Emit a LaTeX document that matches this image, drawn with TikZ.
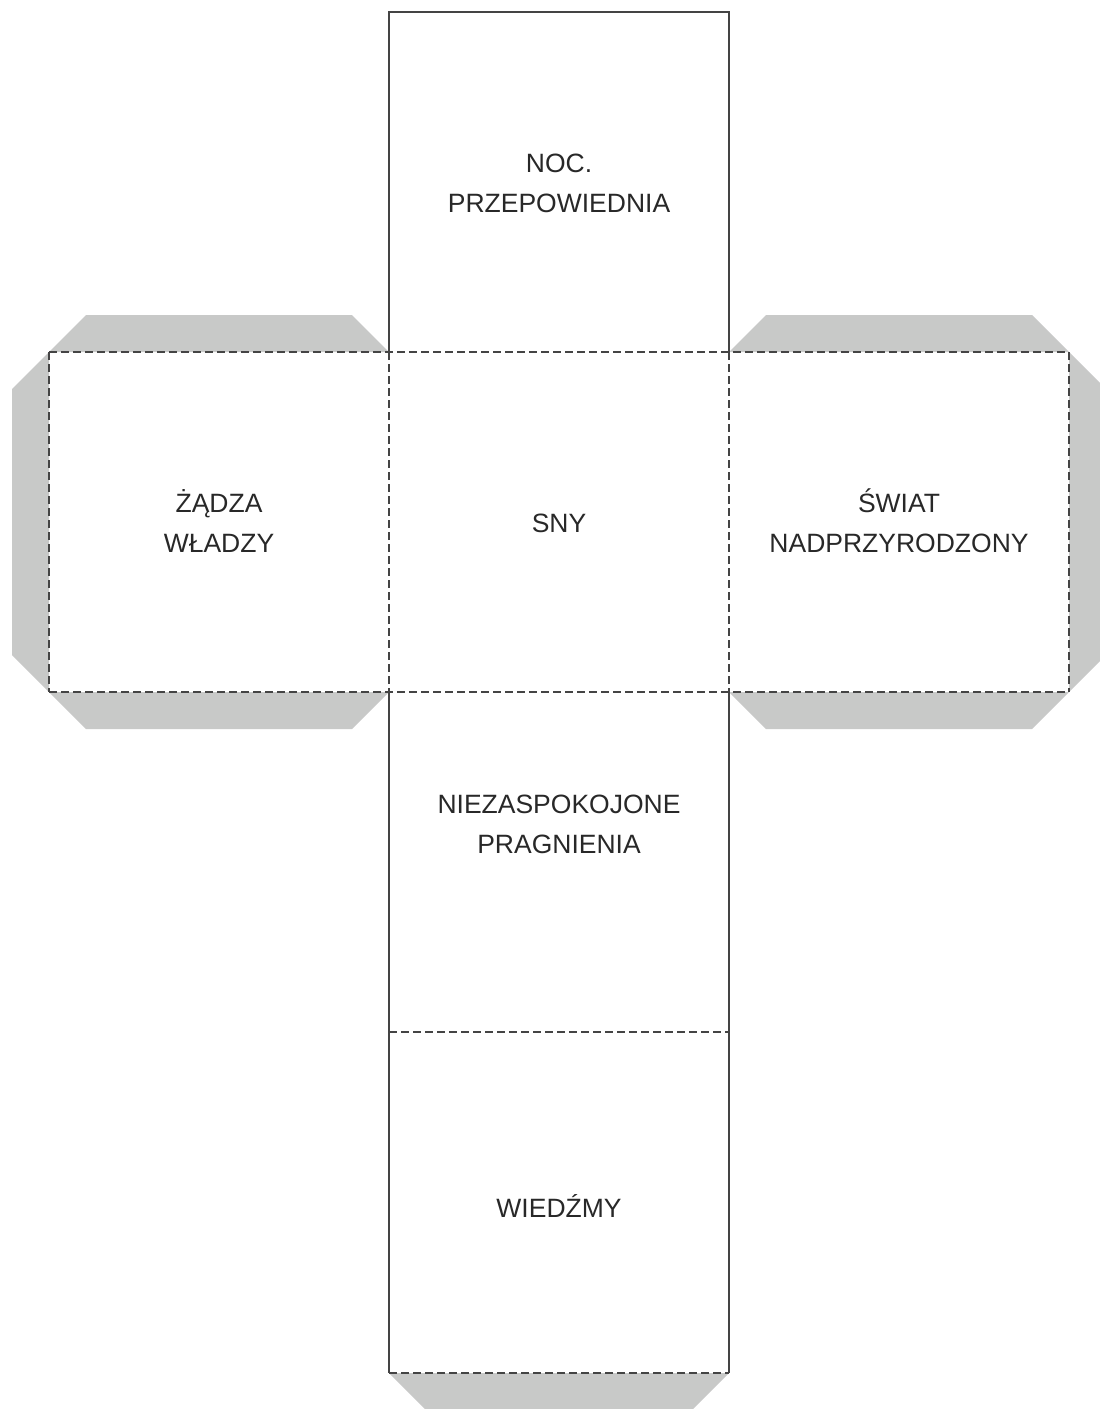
\documentclass[tikz,border=0pt]{standalone}
\usepackage{fontspec}
\setmainfont{Liberation Sans}
\definecolor{flapgray}{RGB}{200,201,200}
\definecolor{edgegray}{RGB}{68,68,68}
\definecolor{textgray}{RGB}{40,40,40}
\tikzset{
  flap/.style={fill=flapgray, draw=none},
  cutline/.style={draw=edgegray, line width=1.8pt},
  foldline/.style={draw=edgegray, line width=1.8pt, dash pattern=on 7.5pt off 4.5pt},
  facelabel/.style={anchor=base, inner sep=0pt, text=textgray, font=\fontsize{26.5}{40}\selectfont}
}
\newcommand{\facetext}[1]{\begin{tabular}[t]{@{}c@{}}#1\end{tabular}}
\begin{document}
\begin{tikzpicture}[x=1pt, y=-1pt]
\useasboundingbox (0,0) rectangle (1100,1409);
\clip (0,0) rectangle (1100,1409);
% flaps
\fill[flap] (49,352) -- (86,315) -- (352,315) -- (389,352) -- cycle;
\fill[flap] (49,692) -- (86,729) -- (352,729) -- (389,692) -- cycle;
\fill[flap] (49,352) -- (12,389) -- (12,655) -- (49,692) -- cycle;
\fill[flap] (729,352) -- (766,315) -- (1032,315) -- (1069,352) -- cycle;
\fill[flap] (729,692) -- (766,729) -- (1032,729) -- (1069,692) -- cycle;
\fill[flap] (1069,352) -- (1106,389) -- (1106,655) -- (1069,692) -- cycle;
\fill[flap] (389,1373) -- (426,1410) -- (692,1410) -- (729,1373) -- cycle;
% cut lines
\draw[cutline] (389,352) -- (389,12) -- (729,12) -- (729,352);
\draw[cutline] (389,692) -- (389,1373);
\draw[cutline] (729,692) -- (729,1373);
% fold lines
\draw[foldline] (49,352) -- (1069,352);
\draw[foldline] (49,692) -- (1069,692);
\draw[foldline] (49,352) -- (49,692);
\draw[foldline] (389,352) -- (389,692);
\draw[foldline] (729,352) -- (729,692);
\draw[foldline] (1069,352) -- (1069,692);
\draw[foldline] (389,1032) -- (729,1032);
\draw[foldline] (389,1373) -- (729,1373);
% labels
\node[facelabel] (top) at (559,172) {\facetext{NOC.\\PRZEPOWIEDNIA}};
\node[facelabel] (left) at (219,512) {\facetext{ŻĄDZA\\WŁADZY}};
\node[facelabel] (mid) at (559,532) {\facetext{SNY}};
\node[facelabel] (right) at (899,512) {\facetext{ŚWIAT\\NADPRZYRODZONY}};
\node[facelabel] (bot1) at (559,813) {\facetext{NIEZASPOKOJONE\\PRAGNIENIA}};
\node[facelabel] (bot2) at (559,1217) {\facetext{WIEDŹMY}};
\end{tikzpicture}
\end{document}
